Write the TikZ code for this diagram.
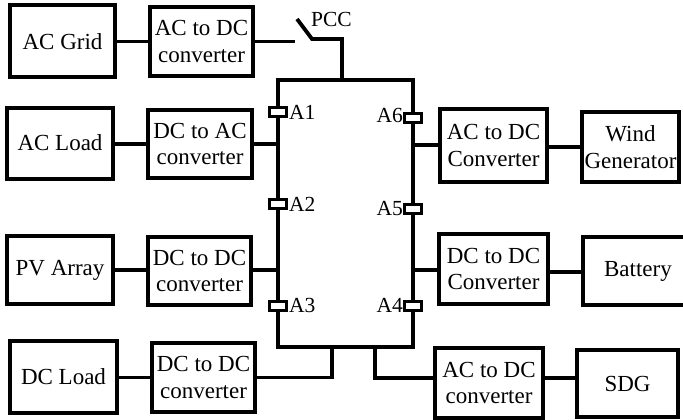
\documentclass[tikz,border=0pt]{standalone}
\usepackage{fontspec}
\setmainfont{Liberation Serif}
\begin{document}
\begin{tikzpicture}[x=1pt,y=-1pt,
  box/.style={draw, line width=4pt, rectangle, inner sep=0pt, align=center, font=\fontsize{23}{26.5}\selectfont},
  wire/.style={line width=3.8pt},
  brk/.style={draw, line width=2.4pt, fill=white, minimum width=17pt, minimum height=9pt, inner sep=0pt},
  lbl/.style={font=\fontsize{21.5}{24}\selectfont, inner sep=0pt}]
\useasboundingbox (0,0) rectangle (683,420);
% boxes
\node[box, minimum width=105pt, minimum height=72pt] (grid) at (62.5,41.5) {AC Grid};
\node[box, minimum width=103pt, minimum height=69pt] (c1) at (201.5,41.5) {AC to DC\\converter};
\node[box, minimum width=106pt, minimum height=71pt] (acload) at (60,143) {AC Load};
\node[box, minimum width=104pt, minimum height=68pt] (c2) at (200,144) {DC to AC\\converter};
\node[box, minimum width=106pt, minimum height=68pt] (pv) at (60,270) {PV Array};
\node[box, minimum width=103pt, minimum height=68pt] (c3) at (199.5,271) {DC to DC\\converter};
\node[box, minimum width=107pt, minimum height=72pt] (dcload) at (63.5,377) {DC Load};
\node[box, minimum width=103pt, minimum height=69pt] (c4) at (203.5,377.5) {DC to DC\\converter};
\node[box, minimum width=107pt, minimum height=73pt] (c5) at (493.5,145.5) {AC to DC\\Converter};
\node[box, minimum width=97pt, minimum height=70pt] (wind) at (630.5,147) {Wind\\Generator};
\node[box, minimum width=109pt, minimum height=70pt] (c6) at (493.5,269) {DC to DC\\Converter};
\node[box, minimum width=110pt, minimum height=68pt] (batt) at (638,271) {Battery};
\node[box, minimum width=108pt, minimum height=70pt] (c7) at (489,383) {AC to DC\\converter};
\node[box, minimum width=101pt, minimum height=67pt] (sdg) at (627.5,383.5) {SDG};
% bus
\coordinate (tl) at (278,80);
\coordinate (tr) at (413,80);
\coordinate (bl) at (278,347);
\coordinate (br) at (413,347);
\draw[wire] (tl) rectangle (br);
% PCC switch
\coordinate (s1) at (295,41.5);
\coordinate (s2) at (297,19);
\coordinate (s3) at (312,39);
\coordinate (s4) at (342,39);
\coordinate (pt) at (342,80);
\draw[wire] (grid.east) -- (c1.west);
\draw[wire] (c1.east) -- (s1);
\draw[wire] (s2) -- (s3) -- (s4) -- (pt);
\node[lbl, anchor=base west] (pcc) at (311,27) {PCC};
% left branches
\draw[wire] (acload.east |- c2.west) -- (c2.west);
\draw[wire] (c2.east) -- (c2.east -| tl);
\draw[wire] (pv.east |- 0,270) -- (c3.west |- 0,270);
\draw[wire] (c3.east |- 0,270) -- (tl |- 0,270);
\draw[wire] (dcload.east |- 0,377.5) -- (c4.west);
\coordinate (d1) at (332,347);
\draw[wire] (c4.east) -| (d1);
% right branches
\draw[wire] (tr |- 0,145) -- (c5.west |- 0,145);
\draw[wire] (c5.east |- 0,147) -- (wind.west |- 0,147);
\draw[wire] (tr |- 0,270) -- (c6.west |- 0,270);
\draw[wire] (c6.east |- 0,272) -- (batt.west |- 0,272);
\coordinate (d2) at (375,347);
\draw[wire] (d2) |- (c7.west |- 0,378);
\draw[wire] (c7.east |- 0,378) -- (sdg.west |- 0,378);
% breakers
\node[brk] (b1) at (278,112) {};
\node[brk] (b2) at (278,204) {};
\node[brk] (b3) at (278,306) {};
\node[brk] (b6) at (413,118) {};
\node[brk] (b5) at (413,209) {};
\node[brk] (b4) at (413,306) {};
\node[lbl, anchor=base west] (la1) at (289,119) {A1};
\node[lbl, anchor=base west] (la2) at (289,211.5) {A2};
\node[lbl, anchor=base west] (la3) at (289,312.5) {A3};
\node[lbl, anchor=base east] (la6) at (403,122.5) {A6};
\node[lbl, anchor=base east] (la5) at (403,215.5) {A5};
\node[lbl, anchor=base east] (la4) at (403,312.5) {A4};
\end{tikzpicture}
\end{document}
